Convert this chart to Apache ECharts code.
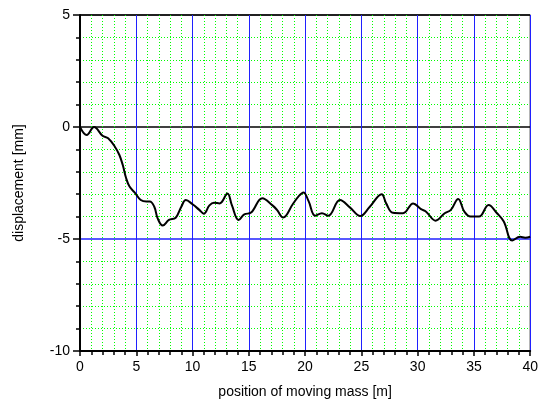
<!DOCTYPE html>
<html>
<head>
<meta charset="utf-8">
<script src="https://cdn.jsdelivr.net/npm/echarts@6/dist/echarts.min.js"></script>
<style>
  html, body { margin: 0; padding: 0; background: #fff; }
  #chart { width: 541px; height: 405px; }
</style>
</head>
<body>
<div id="chart"></div>
<script>
// position of moving mass [m] and displacement [mm]
var positions = [0, 0.6, 1.25, 2.0, 2.5, 3.1, 3.5, 3.8, 4.1, 4.4, 4.85, 5.4, 5.9, 6.2, 6.6, 6.9, 7.35, 7.9, 8.5, 9.0,
  9.4, 10.0, 10.6, 11.0, 11.5, 11.9, 12.4, 13.1, 13.5, 14.1, 14.6, 15.2, 16.2, 17.1, 17.5, 18.05, 18.9, 19.4, 19.85,
  20.3, 20.9, 21.5, 22.05, 23.1, 24.0, 24.9, 25.75, 26.8, 27.2, 27.8, 28.7, 29.6, 30.3, 30.75, 31.6, 32.4, 32.95,
  33.6, 34.15, 34.7, 35.45, 36.3, 37.05, 37.65, 38.4, 39.1, 39.55, 40];
var displacement = [0, -0.36, 0, -0.39, -0.5, -0.88, -1.25, -1.7, -2.29, -2.66, -2.92, -3.26, -3.33, -3.33, -3.56,
  -4.08, -4.4, -4.15, -4.05, -3.56, -3.26, -3.45, -3.7, -3.87, -3.5, -3.38, -3.41, -2.97, -3.5, -4.15, -3.9, -3.82,
  -3.18, -3.5, -3.7, -4.04, -3.45, -3.11, -2.92, -3.3, -3.96, -3.85, -3.96, -3.26, -3.6, -3.97, -3.56, -3.0, -3.41,
  -3.83, -3.85, -3.41, -3.67, -3.78, -4.18, -3.85, -3.7, -3.21, -3.78, -4.0, -4.0, -3.48, -3.85, -4.22, -5.07,
  -4.9, -4.94, -4.9];
var xTicks = [0, 5, 10, 15, 20, 25, 30, 35, 40];
var yTicks = [-10, -5, 0, 5];

var points = positions.map(function(p, i) { return [p, displacement[i]]; });

var font = "'Liberation Sans', Arial, sans-serif";
function minorGrid() {
  return { show: true, lineStyle: { color: '#00ff00', type: [1, 2], width: 1 } };
}

var chart = echarts.init(document.getElementById('chart'));
chart.setOption({
  animation: false,
  grid: { left: 80, top: 15, right: 8, bottom: 54, show: true, borderColor: '#000', borderWidth: 1 },
  xAxis: {
    type: 'value',
    min: xTicks[0],
    max: xTicks[xTicks.length - 1],
    interval: 5,
    name: 'position of moving mass [m]',
    nameLocation: 'middle',
    nameGap: 34,
    nameTextStyle: { color: '#000', fontSize: 14, fontFamily: font },
    axisLine: { onZero: false, lineStyle: { color: '#000', width: 2 } },
    axisTick: { inside: false, length: 5, lineStyle: { color: '#000', width: 1.5 } },
    minorTick: { show: true, splitNumber: 5, length: 4, lineStyle: { color: '#000', width: 1.5 } },
    axisLabel: { color: '#000', fontSize: 14, fontFamily: font, margin: 9 },
    splitLine: { show: true, lineStyle: { color: ['#2020ff'], width: 1 } },
    minorSplitLine: minorGrid()
  },
  yAxis: {
    type: 'value',
    min: yTicks[0],
    max: yTicks[yTicks.length - 1],
    interval: 5,
    name: 'displacement [mm]',
    nameLocation: 'middle',
    nameGap: 54,
    nameTextStyle: { color: '#000', fontSize: 14, fontFamily: font },
    axisLine: { onZero: false, lineStyle: { color: '#000', width: 2 } },
    axisTick: { inside: false, length: 7, lineStyle: { color: '#000', width: 1.5 } },
    minorTick: { show: true, splitNumber: 5, length: 4, lineStyle: { color: '#000', width: 1.5 } },
    axisLabel: { color: '#000', fontSize: 14, fontFamily: font, margin: 10 },
    splitLine: { show: true, lineStyle: { color: ['#000', '#2020ff', '#000', '#000'], width: 1.5 } },
    minorSplitLine: minorGrid()
  },
  series: [{
    type: 'line',
    data: points,
    smooth: 0.4,
    showSymbol: false,
    lineStyle: { color: '#000', width: 2 }
  }]
});
</script>
</body>
</html>
